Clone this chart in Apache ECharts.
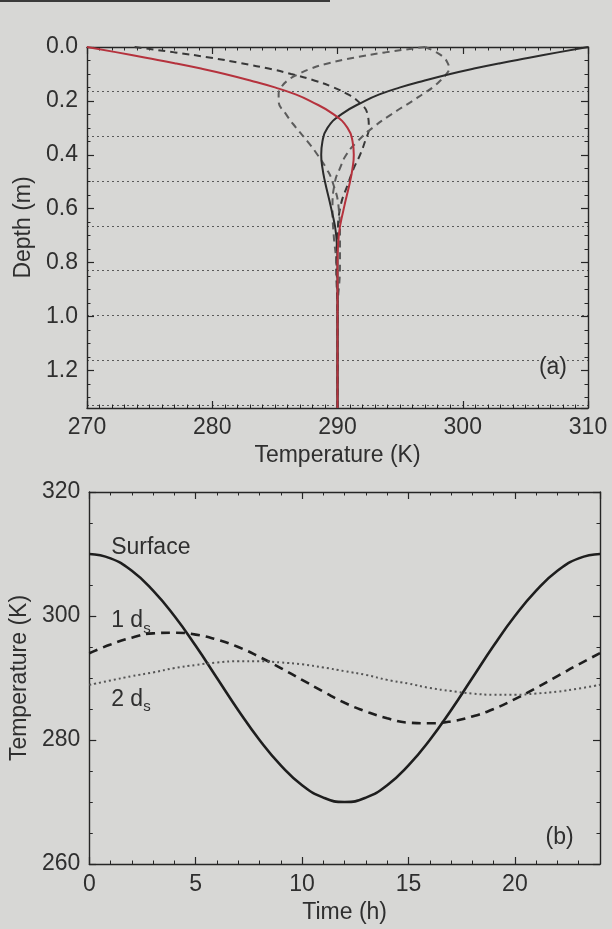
<!DOCTYPE html>
<html>
<head>
<meta charset="utf-8">
<title>Soil temperature</title>
<script src="https://cdn.jsdelivr.net/npm/echarts@6/dist/echarts.min.js"></script>
<style>
    html, body { margin: 0; padding: 0; background: #d7d7d5; }
    #main { width: 612px; height: 929px; }
</style>
</head>
<body>
<div id="main"></div>
<script>
////--------------------------------------------------------------------////
// (a) temperature profiles
const depth       = [0, 0.02, 0.04, 0.06, 0.08, 0.10, 0.125, 0.15, 0.175, 0.2, 0.25, 0.3, 0.35, 0.4, 0.45, 0.5, 0.6, 0.7, 0.8, 1.0, 1.34];
const prof_0h     = [310.0, 307.6, 305.3, 303.0, 300.9, 299.0, 296.9, 295.0, 293.4, 292.2, 290.3, 289.2, 288.8, 288.7, 288.8, 289.0, 289.5, 289.9, 290.0, 290.0, 290.0];
const prof_5h     = [297.0, 297.9, 298.5, 298.8, 298.9, 298.7, 298.2, 297.6, 296.8, 296.0, 294.3, 292.8, 291.6, 290.7, 290.2, 289.8, 289.6, 289.7, 289.9, 290.0, 290.0];
const prof_10h    = [273.8, 277.0, 279.9, 282.3, 284.5, 286.3, 288.2, 289.7, 290.8, 291.6, 292.4, 292.5, 292.2, 291.8, 291.3, 290.9, 290.2, 290.0, 289.9, 290.0, 290.0];
const prof_12h    = [270.0, 272.4, 274.7, 277.0, 279.1, 281.0, 283.1, 285.0, 286.6, 287.8, 289.7, 290.8, 291.2, 291.3, 291.2, 291.0, 290.5, 290.1, 290.0, 290.0, 290.0];
const prof_19h    = [297.0, 293.8, 291.3, 289.3, 287.9, 286.9, 286.0, 285.5, 285.3, 285.3, 285.9, 286.7, 287.6, 288.4, 289.1, 289.6, 290.1, 290.2, 290.2, 290.0, 290.0];
const depth_max   = 1.34;
const damp_depth  = 0.166;   // dotted lines every d_s
////-------------------////
// (b) temperature against time at three depths
const hours       = [0, 1, 2, 3, 4, 5, 6, 7, 8, 9, 10, 11, 12, 13, 14, 15, 16, 17, 18, 19, 20, 21, 22, 23, 24];
const t_surface   = [310.0, 309.3, 307.3, 304.1, 300.0, 295.2, 290.0, 284.8, 280.0, 275.9, 272.7, 270.7, 270.0, 270.7, 272.7, 275.9, 280.0, 284.8, 290.0, 295.2, 300.0, 304.1, 307.3, 309.3, 310.0];
const t_one_ds    = [294.0, 295.4, 296.5, 297.2, 297.3, 297.0, 296.2, 295.0, 293.4, 291.6, 289.7, 287.8, 286.0, 284.6, 283.5, 282.8, 282.7, 283.0, 283.8, 285.0, 286.6, 288.4, 290.3, 292.2, 294.0];
const t_two_ds    = [288.9, 289.6, 290.3, 290.9, 291.6, 292.1, 292.5, 292.7, 292.7, 292.5, 292.2, 291.7, 291.1, 290.5, 289.7, 289.1, 288.4, 287.9, 287.5, 287.3, 287.3, 287.5, 287.8, 288.3, 288.9];
////--------------------------------------------------------------------////
const FONT  = "'Liberation Sans', Arial, sans-serif";
const INK   = '#262626';
const TEXT  = '#2f2f2f';
////-------------------////
function pairs(xs, ys){
    return xs.map((x, i) => [x, ys[i]]);
}
////-------------------////
// one side of the frame: a major axis and a minor axis laid on top of each other
function side(grid, position, min, max, major, minor, extra){
    const even = Math.abs(max / major - Math.round(max / major)) < 1e-6;
    const base = {
        gridIndex: grid, type: 'value', position: position,
        min: min, max: max, inverse: !!(extra && extra.inverse),
        axisLine:  {show: true, onZero: false, lineStyle: {color: INK, width: 1.4}},
        axisTick:  {show: true, inside: true, length: 7, lineStyle: {color: INK, width: 1.2}},
        axisLabel: {show: false},
        splitLine: {show: false}
    };
    const main = Object.assign({}, base, {interval: major});
    if(extra && extra.labels){
        main.axisLabel = {
            show: true, color: TEXT, fontSize: 23, fontFamily: FONT,
            margin: extra.margin, formatter: extra.formatter,
            showMaxLabel: even
        };
        main.name = extra.name;
        main.nameLocation = 'middle';
        main.nameGap = extra.nameGap;
        main.nameTextStyle = {color: TEXT, fontSize: 23, fontFamily: FONT};
    }
    const small = Object.assign({}, base, {
        interval: minor,
        axisLine: {show: false, onZero: false},
        axisTick: {show: true, inside: true, length: 3.5, lineStyle: {color: INK, width: 1}}
    });
    return [main, small];
}
////--------------------------------------------------------------------////
const xAxes = [].concat(
    side(0, 'bottom', 270, 310, 10, 1, {labels: true, margin: 8, nameGap: 36, name: 'Temperature (K)'}),
    side(0, 'top',    270, 310, 10, 1),
    side(1, 'bottom', 0, 24, 5, 1, {labels: true, margin: 9, nameGap: 37, name: 'Time (h)'}),
    side(1, 'top',    0, 24, 5, 1)
);
const yAxes = [].concat(
    side(0, 'left',  0, depth_max, 0.2, 0.05, {inverse: true, labels: true, margin: 9, nameGap: 50, name: 'Depth (m)', formatter: v => v.toFixed(1)}),
    side(0, 'right', 0, depth_max, 0.2, 0.05, {inverse: true}),
    [{
        gridIndex: 0, type: 'value', position: 'left', inverse: true,
        min: 0, max: depth_max, interval: damp_depth,
        axisLine: {show: false, onZero: false}, axisTick: {show: false}, axisLabel: {show: false},
        splitLine: {show: true, lineStyle: {color: '#5a5a5a', type: [2, 3], width: 1}}
    }],
    side(1, 'left',  260, 320, 20, 5, {labels: true, margin: 9, nameGap: 51, name: 'Temperature (K)'}),
    side(1, 'right', 260, 320, 20, 5)
);
// index of the labelled axes
const AX_A = 0, AY_A = 0, AX_B = 4, AY_B = 5;
////-------------------////
const profile = (name, temps, color, type, width) => ({
    name: name, type: 'line', xAxisIndex: AX_A, yAxisIndex: AY_A,
    data: pairs(temps, depth), smooth: true, showSymbol: false,
    lineStyle: {color: color, type: type, width: width}, z: 3
});
const course = (name, temps, color, type, width) => ({
    name: name, type: 'line', xAxisIndex: AX_B, yAxisIndex: AY_B,
    data: pairs(hours, temps), smooth: true, showSymbol: false,
    lineStyle: {color: color, type: type, width: width}, z: 3
});
const note = (axisX, axisY, items) => ({
    type: 'scatter', xAxisIndex: axisX, yAxisIndex: axisY, symbolSize: 0, silent: true, z: 5,
    itemStyle: {opacity: 1},
    data: items,
    label: {
        show: true, color: TEXT, fontSize: 23, fontFamily: FONT, opacity: 1,
        formatter: p => p.name,
        rich: {
            n: {fontSize: 23, fontFamily: FONT, color: TEXT, lineHeight: 30, verticalAlign: 'middle'},
            s: {fontSize: 15, fontFamily: FONT, color: TEXT, lineHeight: 14, verticalAlign: 'bottom'}
        }
    }
});
////-------------------////
const option = {
    backgroundColor: '#d7d7d5',
    animation: false,
    grid: [
        {left: 87, right: 24, top: 47, height: 361},
        {left: 89, right: 12, top: 492, height: 372}
    ],
    xAxis: xAxes,
    yAxis: yAxes,
    graphic: [
        // the rule at the top of the book page
        {type: 'rect', shape: {x: 0, y: 0, width: 330, height: 2}, style: {fill: '#3a3a3a'}}
    ],
    series: [
        profile('10 h', prof_10h, '#383838', [7, 5], 2),
        profile('5 h',  prof_5h,  '#5c5c5c', [7, 5], 2),
        profile('19 h', prof_19h, '#5c5c5c', [7, 5], 2),
        profile('0 h',  prof_0h,  '#2b2b2b', 'solid', 2),
        profile('12 h', prof_12h, '#b5323d', 'solid', 2),
        course('Surface', t_surface, '#1e1e1e', 'solid', 2.6),
        course('1 ds',    t_one_ds,  '#1e1e1e', [9, 6], 2.6),
        course('2 ds',    t_two_ds,  '#555555', [2, 3], 2),
        note(AX_A, AY_A, [
            {name: '(a)', value: [307.2, 1.19], label: {position: 'inside'}}
        ]),
        note(AX_B, AY_B, [
            {name: '(b)', value: [22.1, 264.2], label: {position: 'inside'}},
            {name: '{n|Surface}', value: [1.03, 311.0], label: {position: 'right', distance: 0}},
            {name: '{n|1 d}{s|s}', value: [1.03, 299.2], label: {position: 'right', distance: 0}},
            {name: '{n|2 d}{s|s}', value: [1.03, 286.5], label: {position: 'right', distance: 0}}
        ])
    ]
};
////-------------------////
const chart = echarts.init(document.getElementById('main'), null, {renderer: 'canvas'});
chart.setOption(option);
window.addEventListener('resize', chart.resize);
</script>
</body>
</html>
